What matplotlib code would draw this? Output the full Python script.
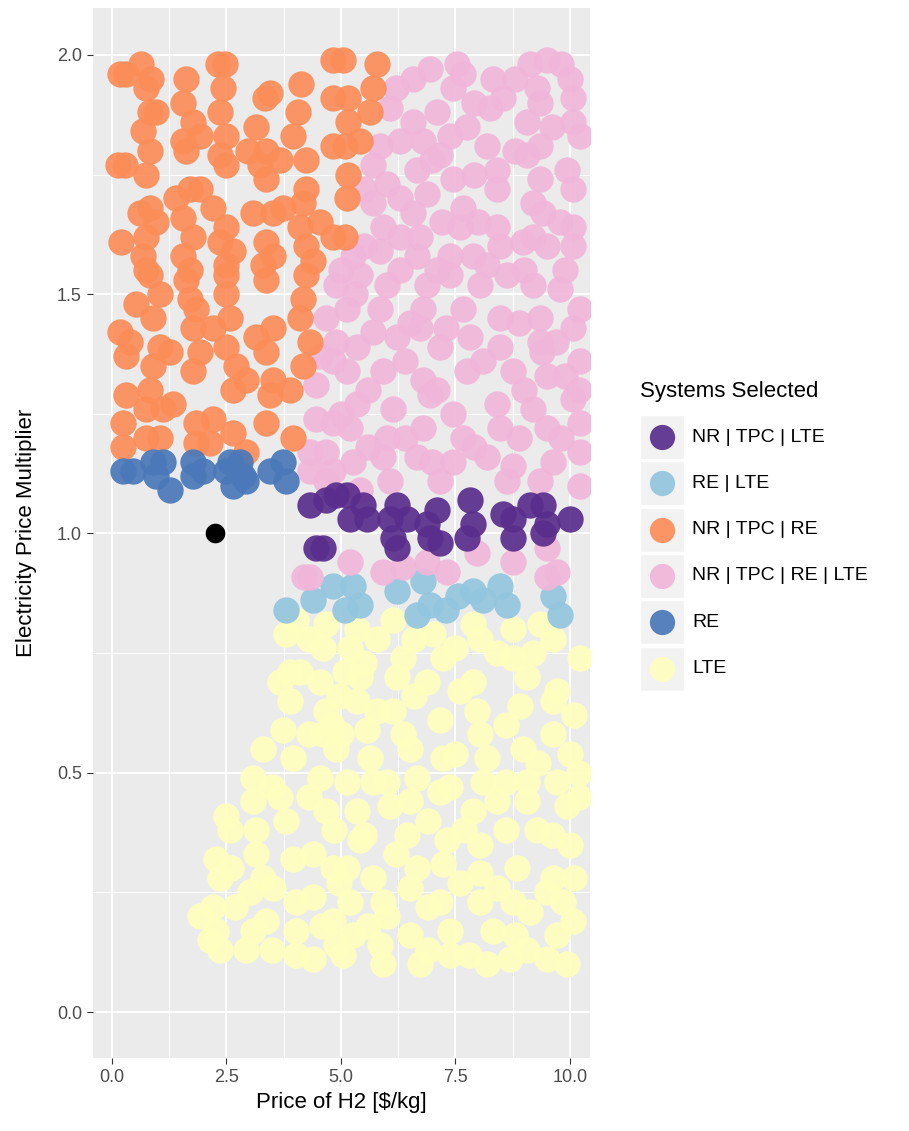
import matplotlib.pyplot as plt
from matplotlib.patches import Rectangle

# values (Price of H2, Electricity Price Multiplier)
orange_x = [0.31, 0.63, 0.85, 0.74, 1.62, 2.31, 2.47, 2.42, 4.83, 4.13, 3.34, 3.45, 3.14, 4.06, 4.83,
            0.96, 0.83, 1.55, 1.77, 2.36, 0.68, 0.83, 0.74, 0.28, 1.55, 1.62, 1.92, 2.49, 2.36, 2.49,
            2.97, 3.36, 3.23, 3.36, 3.67, 3.95, 4.24, 4.83, 4.24, 4.17, 1.92, 1.70, 1.40, 2.21, 0.83,
            0.61, 0.96, 0.20, 0.74, 0.68, 0.74, 1.55, 1.77, 1.55, 1.70, 2.49, 2.36, 2.64, 2.49, 3.08,
            3.52, 3.73, 3.36, 3.52, 3.30, 4.10, 4.54, 4.24, 4.39, 4.83,
            5.04, 5.79, 5.70, 5.63, 5.15, 5.15, 5.41, 5.09, 5.15, 5.13, 5.09, 0.17, 0.13,
            0.83, 1.62, 2.49, 3.36, 4.24, 1.05, 0.52, 1.70, 1.83, 2.49, 4.17, 0.90, 0.17, 0.39, 0.31,
            1.77, 2.21, 2.58, 3.14, 3.52, 3.36, 4.10, 4.32, 4.17, 1.05, 1.27, 0.90, 1.92, 1.77, 2.49,
            2.71, 2.93, 2.64, 3.52, 3.89, 3.45, 0.31, 0.83, 0.74, 1.33, 1.11, 0.24, 1.83, 2.21, 2.64,
            3.36, 0.24, 0.74, 1.05, 1.83, 2.14, 2.93, 3.95]
orange_y = [1.96, 1.98, 1.95, 1.93, 1.95, 1.98, 1.98, 1.93, 1.99, 1.94, 1.91, 1.92, 1.85, 1.88, 1.91,
            1.88, 1.88, 1.90, 1.86, 1.88, 1.84, 1.80, 1.75, 1.77, 1.82, 1.80, 1.83, 1.83, 1.79, 1.77,
            1.80, 1.80, 1.77, 1.74, 1.78, 1.83, 1.78, 1.81, 1.72, 1.69, 1.72, 1.72, 1.70, 1.68, 1.68,
            1.67, 1.65, 1.61, 1.62, 1.58, 1.55, 1.66, 1.62, 1.58, 1.55, 1.64, 1.61, 1.59, 1.56, 1.67,
            1.67, 1.68, 1.61, 1.58, 1.56, 1.64, 1.65, 1.60, 1.57, 1.62,
            1.99, 1.98, 1.93, 1.88, 1.91, 1.86, 1.82, 1.81, 1.75, 1.70, 1.62, 1.96, 1.77,
            1.54, 1.53, 1.54, 1.53, 1.54, 1.50, 1.48, 1.49, 1.47, 1.50, 1.49, 1.45, 1.42, 1.40, 1.37,
            1.43, 1.43, 1.45, 1.41, 1.43, 1.38, 1.45, 1.40, 1.35, 1.39, 1.38, 1.35, 1.38, 1.34, 1.39,
            1.35, 1.32, 1.30, 1.32, 1.30, 1.29, 1.29, 1.30, 1.26, 1.27, 1.26, 1.23, 1.23, 1.24, 1.21,
            1.23, 1.18, 1.20, 1.20, 1.19, 1.19, 1.17, 1.20]

pink_x = [6.07, 6.57, 6.94, 7.53, 7.66, 7.45, 8.32, 8.25, 8.54, 9.13, 9.50, 10.00, 9.28, 9.34, 10.07,
          9.06, 10.07, 10.22, 6.57, 6.29, 5.85, 5.70, 6.79, 7.38, 7.75, 7.16, 8.19, 8.41, 8.41, 9.06,
          9.34, 9.93, 10.07, 9.34, 9.19, 9.41, 9.78, 10.07, 6.66, 6.00, 6.88, 7.45, 5.70, 5.92, 6.57,
          6.72, 7.66, 7.60, 8.41, 8.47, 8.97, 9.50, 10.07, 5.85, 5.26, 6.66, 7.38, 7.88,
          5.41, 6.00, 6.88, 7.38, 8.03, 8.62, 9.19, 9.78, 10.22, 5.13, 5.85, 6.79, 7.66, 8.47, 9.34,
          10.07, 5.35, 6.22, 6.72, 7.16, 7.82, 8.47, 9.34, 10.22, 5.13, 5.92, 6.79, 7.75, 8.76, 9.50,
          5.35, 6.14, 6.94, 7.45, 8.41, 9.19, 10.07, 5.20, 6.00, 6.79, 7.66, 8.47, 9.50, 10.22, 5.26,
          5.92, 6.66, 7.45, 8.19, 8.76, 9.63, 10.22, 6.07, 7.16, 8.62, 9.34, 10.22, 5.41,
          4.54, 4.83, 4.45, 4.45, 4.83, 4.32, 4.67, 4.32, 4.83, 4.67, 4.67, 4.89,
          5.20, 5.92, 6.35, 6.88, 7.31, 7.97, 8.76, 9.50, 9.72, 4.32, 4.20, 9.50,
          5.60, 6.40, 7.10, 8.10, 9.00, 9.90, 5.70, 6.50, 7.30, 8.90, 9.70, 5.50, 6.30, 7.10, 8.20,
          9.00, 9.90, 5.50, 6.30, 7.00, 7.90, 8.80, 9.60, 6.20, 7.10, 7.90, 8.80, 9.80, 5.60, 6.40,
          7.00, 7.90, 8.90, 9.80, 10.20, 9.40, 5.00, 4.90, 5.30, 5.00, 8.00, 7.20, 6.30, 9.20]
pink_y = [1.89, 1.95, 1.97, 1.98, 1.96, 1.93, 1.95, 1.89, 1.91, 1.98, 1.99, 1.95, 1.93, 1.90, 1.91,
          1.86, 1.86, 1.83, 1.86, 1.82, 1.81, 1.77, 1.82, 1.83, 1.85, 1.79, 1.81, 1.76, 1.72, 1.79,
          1.81, 1.76, 1.72, 1.74, 1.69, 1.67, 1.65, 1.64, 1.76, 1.73, 1.71, 1.74, 1.69, 1.64, 1.67,
          1.62, 1.68, 1.64, 1.64, 1.60, 1.61, 1.60, 1.60, 1.59, 1.58, 1.58, 1.58, 1.58,
          1.54, 1.52, 1.52, 1.54, 1.52, 1.54, 1.52, 1.51, 1.47, 1.47, 1.47, 1.47, 1.47, 1.45, 1.45,
          1.43, 1.39, 1.41, 1.43, 1.39, 1.41, 1.39, 1.40, 1.36, 1.34, 1.34, 1.32, 1.34, 1.34, 1.33,
          1.27, 1.26, 1.29, 1.25, 1.27, 1.26, 1.28, 1.22, 1.20, 1.22, 1.20, 1.22, 1.22, 1.23, 1.15,
          1.16, 1.16, 1.15, 1.16, 1.14, 1.15, 1.17, 1.11, 1.11, 1.11, 1.11, 1.10, 1.09,
          1.37, 1.36, 1.31, 1.24, 1.23, 1.17, 1.17, 1.13, 1.13, 1.11, 1.45, 1.52,
          0.94, 0.92, 0.93, 0.94, 0.92, 0.96, 0.94, 0.97, 0.92, 0.91, 0.91, 0.91,
          1.30, 1.36, 1.30, 1.36, 1.30, 1.33, 1.42, 1.44, 1.43, 1.44, 1.40, 1.60, 1.55, 1.55, 1.56,
          1.55, 1.55, 1.72, 1.70, 1.78, 1.75, 1.80, 1.85, 1.93, 1.88, 1.90, 1.95, 1.98, 1.18, 1.20,
          1.15, 1.18, 1.20, 1.20, 1.30, 1.38, 1.25, 1.40, 1.50, 1.55, 1.65, 1.65, 1.62, 1.62]

purple_x = [4.32, 4.67, 4.89, 5.13, 5.48, 5.20, 5.57, 6.22, 6.07, 6.44, 7.10, 6.88, 7.82, 7.88, 8.54,
            8.76, 9.13, 9.41, 9.50, 10.00, 6.14, 6.22, 6.94, 7.16, 7.75, 8.76, 9.41, 4.45, 4.61]
purple_y = [1.06, 1.07, 1.08, 1.08, 1.06, 1.03, 1.03, 1.06, 1.03, 1.03, 1.05, 1.02, 1.07, 1.02, 1.04,
            1.03, 1.06, 1.06, 1.02, 1.03, 0.99, 0.97, 0.99, 0.98, 0.99, 0.99, 1.00, 0.97, 0.97]

lightblue_x = [5.26, 5.41, 6.22, 6.79, 6.94, 6.66, 7.88, 8.47, 8.62, 9.63, 9.78, 3.80, 4.39, 4.83,
               5.09, 7.30, 8.10, 7.55]
lightblue_y = [0.89, 0.85, 0.88, 0.90, 0.85, 0.83, 0.88, 0.89, 0.85, 0.87, 0.83, 0.84, 0.86, 0.89,
               0.84, 0.84, 0.86, 0.87]

blue_x = [0.24, 0.46, 0.90, 1.11, 0.96, 1.27, 1.77, 1.99, 1.77, 2.58, 2.79, 2.49, 2.86, 2.64, 2.93,
          3.45, 3.73, 3.80]
blue_y = [1.13, 1.13, 1.15, 1.15, 1.12, 1.09, 1.15, 1.13, 1.12, 1.15, 1.15, 1.13, 1.12, 1.10, 1.11,
          1.13, 1.15, 1.11]

yellow_x = [4.02, 3.80, 4.67, 4.61, 3.67, 4.10, 4.54, 3.89, 4.67, 3.73, 4.61, 3.95, 3.08, 4.54,
            2.49, 2.58, 3.14, 3.08, 3.67, 3.80, 4.67, 3.14, 2.27, 3.95, 2.36, 4.83, 2.21, 3.01, 3.52,
            4.02, 4.39, 2.27, 2.36, 3.08, 2.93, 3.36, 4.02, 4.02, 4.83, 4.89, 1.92, 2.14,
            6.14, 5.35, 5.20, 5.79, 7.01, 7.88, 8.03, 8.76, 9.34, 9.63, 10.22, 8.76, 7.23, 6.35, 5.41,
            6.22, 6.88, 7.88, 9.06, 9.72, 5.35, 6.14, 7.16, 7.97, 8.91, 9.63, 5.57, 6.35, 8.03, 9.63,
            5.63, 6.51, 7.23, 8.19, 8.97, 10.00, 5.13, 5.70, 6.66, 7.38, 8.10, 9.06, 9.72,
            5.35, 6.07, 6.51, 7.16, 7.88, 8.41, 9.06, 9.93, 5.41, 6.44, 7.31, 8.03, 9.28, 10.00,
            5.13, 5.70, 6.66, 7.23, 8.03, 8.84, 9.63, 5.20, 5.92, 6.51, 7.16, 8.03, 8.76, 9.85, 9.13,
            5.26, 5.85, 6.51, 7.38, 7.38, 8.32, 9.06, 9.72, 10.07, 5.92, 6.72, 8.19, 8.69, 9.93, 5.04,
            4.95, 4.90, 4.85, 4.95, 4.80,
            5.50, 6.60, 7.50, 8.40, 9.20, 10.10, 10.20, 9.30, 8.60, 7.60, 6.60, 5.80, 5.00, 4.30, 3.30,
            3.50, 4.30, 5.50, 6.20, 6.90, 7.70, 8.60, 9.60, 10.10, 9.50, 8.40, 7.60, 6.90, 6.00, 5.60,
            4.60, 4.40, 3.30, 2.70, 2.60, 6.90, 7.80, 8.80, 9.50, 3.50, 4.40, 10.20, 3.90, 4.30, 5.10,
            7.50, 8.60, 6.00]
yellow_y = [0.82, 0.79, 0.81, 0.76, 0.69, 0.71, 0.69, 0.65, 0.63, 0.59, 0.58, 0.53, 0.49, 0.49,
            0.41, 0.38, 0.38, 0.44, 0.45, 0.40, 0.42, 0.33, 0.32, 0.32, 0.28, 0.30, 0.22, 0.25, 0.26,
            0.23, 0.24, 0.17, 0.13, 0.17, 0.13, 0.19, 0.17, 0.12, 0.19, 0.14, 0.20, 0.15,
            0.82, 0.80, 0.76, 0.78, 0.79, 0.81, 0.78, 0.80, 0.81, 0.78, 0.74, 0.74, 0.74, 0.74, 0.70,
            0.70, 0.69, 0.69, 0.70, 0.67, 0.65, 0.63, 0.61, 0.63, 0.64, 0.65, 0.59, 0.58, 0.58, 0.58,
            0.53, 0.55, 0.53, 0.53, 0.55, 0.54, 0.48, 0.48, 0.49, 0.47, 0.48, 0.48, 0.48,
            0.42, 0.43, 0.44, 0.46, 0.42, 0.44, 0.44, 0.43, 0.36, 0.37, 0.36, 0.35, 0.38, 0.35,
            0.30, 0.28, 0.30, 0.31, 0.29, 0.30, 0.28, 0.23, 0.23, 0.26, 0.23, 0.23, 0.23, 0.23, 0.21,
            0.16, 0.14, 0.16, 0.17, 0.12, 0.17, 0.13, 0.16, 0.19, 0.10, 0.10, 0.10, 0.11, 0.10, 0.12,
            0.66, 0.55, 0.38, 0.27, 0.60,
            0.73, 0.78, 0.76, 0.75, 0.75, 0.62, 0.50, 0.52, 0.60, 0.67, 0.66, 0.63, 0.58, 0.58, 0.55,
            0.47, 0.45, 0.37, 0.33, 0.40, 0.38, 0.38, 0.37, 0.28, 0.25, 0.26, 0.27, 0.22, 0.20, 0.18,
            0.18, 0.33, 0.28, 0.22, 0.30, 0.13, 0.12, 0.16, 0.11, 0.13, 0.11, 0.45, 0.71, 0.78, 0.71,
            0.54, 0.48, 0.48]

current_x = [2.25]
current_y = [1.00]

labels = ["NR | TPC | LTE", "RE | LTE", "NR | TPC | RE", "NR | TPC | RE | LTE", "RE", "LTE"]
colors = ["#5a2d8c", "#92c5de", "#fc8d59", "#f1b6da", "#4a78b8", "#ffffbf"]

plt.rcParams['font.family'] = ['Liberation Sans', 'DejaVu Sans']

fig = plt.figure(figsize=(9.09, 11.31), dpi=100)
ax = fig.add_axes([93 / 909, 1 - 1058 / 1131, 497 / 909, 1050 / 1131])
ax.set_facecolor("#ebebeb")
for s in ax.spines.values():
    s.set_visible(False)

ax.set_xlim(-0.41, 10.44)
ax.set_ylim(-0.096, 2.098)
ax.set_xticks([0, 2.5, 5, 7.5, 10])
ax.set_xticklabels(["0.0", "2.5", "5.0", "7.5", "10.0"])
ax.set_yticks([0, 0.5, 1.0, 1.5, 2.0])
ax.set_yticklabels(["0.0", "0.5", "1.0", "1.5", "2.0"])
ax.set_xticks([1.25, 3.75, 6.25, 8.75], minor=True)
ax.set_yticks([0.25, 0.75, 1.25, 1.75], minor=True)
ax.grid(True, which="major", color="white", lw=1.4)
ax.grid(True, which="minor", color="white", lw=0.7)
ax.set_axisbelow(True)
ax.tick_params(which="both", length=0)
ax.tick_params(which="major", length=4, color="#333333", labelsize=13, labelcolor="#4d4d4d", pad=4)

ms = 360
al = 0.92
ax.scatter(yellow_x, yellow_y, s=ms, c=colors[5], alpha=al, lw=0)
ax.scatter(lightblue_x, lightblue_y, s=ms, c=colors[1], alpha=al, lw=0)
ax.scatter(pink_x, pink_y, s=ms, c=colors[3], alpha=al, lw=0)
ax.scatter(orange_x, orange_y, s=ms, c=colors[2], alpha=al, lw=0)
ax.scatter(blue_x, blue_y, s=ms, c=colors[4], alpha=al, lw=0)
ax.scatter(purple_x, purple_y, s=ms, c=colors[0], alpha=al, lw=0)
ax.scatter(current_x, current_y, s=200, c="black", lw=0, zorder=5)

ax.set_xlabel("Price of H2 [\\$/kg]", fontsize=16, color="black", labelpad=4)
ax.set_ylabel("Electricity Price Multiplier", fontsize=16, color="black", labelpad=14)

# legend drawn by hand in ggplot style
lg = fig.add_axes([0, 0, 1, 1], facecolor="none")
lg.set_xlim(0, 909)
lg.set_ylim(1131, 0)
lg.axis("off")
lg.text(640, 391, "Systems Selected", fontsize=16, va="center", ha="left")
for i, (lab, col) in enumerate(zip(labels, colors)):
    yc = 437 + i * 46.3
    lg.add_patch(Rectangle((640, yc - 22), 44, 44, facecolor="#f2f2f2", edgecolor="white", lw=1))
    lg.scatter([662], [yc], s=330, c=col, alpha=al, lw=0)
    lg.text(692, yc, lab, fontsize=14, va="center", ha="left")

fig.savefig("out.png", dpi=100)
